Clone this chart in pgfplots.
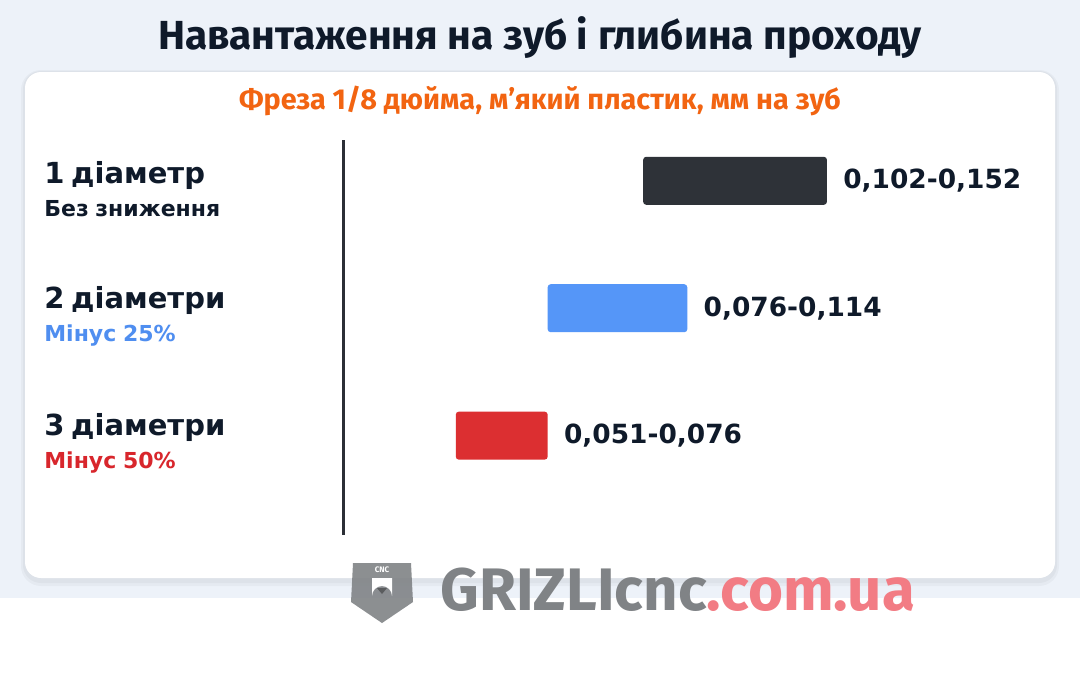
\documentclass[border=0pt]{standalone}
\usepackage{fontspec}
\setmainfont{DejaVu Sans}
\newfontfamily\fira{Fira Sans}
\usepackage{pgfplots}
\pgfplotsset{compat=1.18}
\definecolor{bgtop}{HTML}{EDF2F9}
\definecolor{textdark}{HTML}{0F1A2A}
\definecolor{bardark}{HTML}{2E3238}
\definecolor{barblue}{HTML}{5596F8}
\definecolor{barred}{HTML}{DC2F31}
\definecolor{orangetxt}{HTML}{F26411}
\definecolor{bluetxt}{HTML}{4F8EF0}
\definecolor{redtxt}{HTML}{D8262C}
\definecolor{logogray}{HTML}{808386}
\definecolor{logopink}{HTML}{F27C84}
\definecolor{axisdark}{HTML}{2B2F36}

\pgfplotsset{
  floatbar/.style={
    anchor=south west, at={(171.5pt,-267.5pt)},
    width=348.5pt, height=197.5pt, scale only axis,
    xbar stacked, bar width=24pt,
    xmin=0.0203, xmax=0.21, ymin=-0.32, ymax=2.78, y dir=reverse,
    clip=false, enlargelimits=false,
  },
  valnode/.style={draw=none, fill=none, forget plot, nodes near coords={#1}, nodes near coords align=horizontal,
    every node near coord/.append style={font=\bfseries\fontsize{13.2}{16}\selectfont, text=textdark, anchor=west, inner sep=0pt, xshift=8pt}},
}
\newcommand{\lab}[2]{\fontsize{14.5}{16}\selectfont #1\\[4.5pt]{\fontsize{11}{13}\selectfont #2}}

\begin{document}
\begin{tikzpicture}
\begin{scope}[x=0.5pt,y=-0.5pt]
\path[use as bounding box] (0,0) rectangle (1080,693);
\fill[bgtop] (0,0) rectangle (1080,598);
\fill[white] (0,598) rectangle (1080,693);
% card shadow
\fill[black, opacity=0.03, rounded corners=10pt] (21,70) rectangle (1059,586);
\fill[black, opacity=0.03, rounded corners=9pt] (23,71) rectangle (1057,583);
\fill[white, rounded corners=8pt] (25,72) rectangle (1055,578);
% titles
\node[font=\fira\bfseries\fontsize{20.3}{24}\selectfont, text=textdark] at (540,38) {Навантаження на зуб і глибина проходу};
\node[font=\fira\bfseries\fontsize{14.4}{17}\selectfont, text=orangetxt] at (540,101) {Фреза 1/8 дюйма, м’який пластик, мм на зуб};
% logo
\fill[logogray, opacity=0.9] (353,563) -- (411,563) -- (413,602) -- (382,623) -- (351,602) -- cycle;
\fill[white] (372,578) -- (392,578) -- (392,596) arc (0:-180:10) -- cycle;
\fill[logogray!70!black] (377,588) -- (387,588) -- (382,594) -- cycle;
\node[font=\fira\bfseries\fontsize{4}{4}\selectfont, text=white] at (382,570) {CNC};
\node[font=\fira\bfseries\fontsize{30}{34}\selectfont, anchor=base west, inner sep=0pt] at (440,610) {\textcolor{logogray}{GRIZLIcnc}\textcolor{logopink}{.com.ua}};
\end{scope}

\begin{axis}[floatbar,
  axis x line=none, axis y line=left,
  y axis line style={-, line width=1.5pt, color=axisdark},
  ytick={0,1,2}, ytick style={draw=none},
  yticklabels={
    {\lab{1 діаметр}{Без зниження}},
    {\lab{2 діаметри}{\color{bluetxt}Мінус 25\%}},
    {\lab{3 діаметри}{\color{redtxt}Мінус 50\%}}},
  yticklabel style={align=left, text width=147pt, anchor=east, inner sep=0pt, yshift=-4pt, font=\bfseries, text=textdark},
]
\addplot[draw=none, fill=none, forget plot] coordinates {(0.102,0)};
\addplot[fill=bardark, draw=none, rounded corners=1.5pt] coordinates {(0.050,0)};
\addplot[valnode={0,102-0,152}] coordinates {(0.00001,0)};
\end{axis}

\begin{axis}[floatbar, hide axis]
\addplot[draw=none, fill=none, forget plot] coordinates {(0.076,1)};
\addplot[fill=barblue, draw=none, rounded corners=1.5pt] coordinates {(0.038,1)};
\addplot[valnode={0,076-0,114}] coordinates {(0.00001,1)};
\end{axis}

\begin{axis}[floatbar, hide axis]
\addplot[draw=none, fill=none, forget plot] coordinates {(0.051,2)};
\addplot[fill=barred, draw=none, rounded corners=1.5pt] coordinates {(0.025,2)};
\addplot[valnode={0,051-0,076}] coordinates {(0.00001,2)};
\end{axis}
\end{tikzpicture}
\end{document}
